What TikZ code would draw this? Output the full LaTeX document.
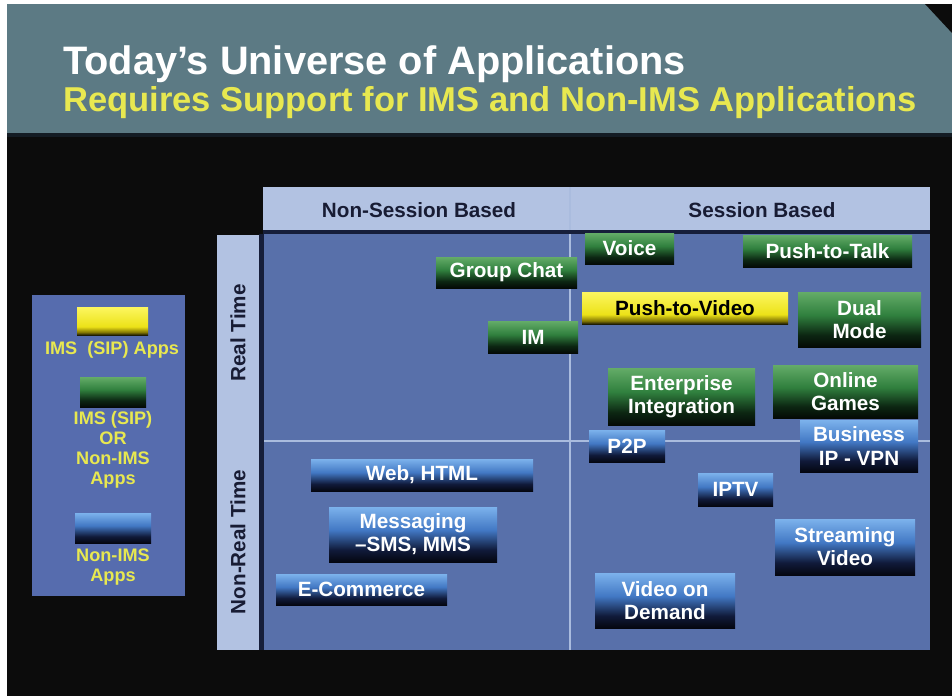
\documentclass[tikz,border=0pt]{standalone}
\usepackage{fontspec}
\setmainfont{Liberation Sans}
\definecolor{bgblack}{RGB}{12,12,12}
\definecolor{headband}{RGB}{92,122,132}
\definecolor{headshadow}{RGB}{20,28,36}
\definecolor{titleyellow}{RGB}{232,232,80}
\definecolor{lightcell}{RGB}{178,194,226}
\definecolor{maincell}{RGB}{88,112,170}
\definecolor{legendcell}{RGB}{86,108,174}
\definecolor{divline}{RGB}{170,188,222}
\definecolor{darkedge}{RGB}{22,30,58}
\definecolor{headtext}{RGB}{24,28,52}
\definecolor{g1}{RGB}{100,172,104}
\definecolor{g2}{RGB}{48,128,62}
\definecolor{g3}{RGB}{12,38,18}
\definecolor{gk}{RGB}{4,10,6}
\definecolor{b1}{RGB}{124,178,236}
\definecolor{b2}{RGB}{66,120,196}
\definecolor{b3}{RGB}{16,26,58}
\definecolor{bk}{RGB}{4,6,16}
\definecolor{y1}{RGB}{252,246,96}
\definecolor{y2}{RGB}{236,226,24}
\definecolor{y3}{RGB}{130,118,4}
\definecolor{yk}{RGB}{30,28,4}
\pgfdeclareverticalshading{greenbox}{100bp}{color(0bp)=(gk); color(25bp)=(gk); color(36bp)=(g3); color(54bp)=(g2); color(75bp)=(g1); color(100bp)=(g1)}
\pgfdeclareverticalshading{bluebox}{100bp}{color(0bp)=(bk); color(25bp)=(bk); color(36bp)=(b3); color(54bp)=(b2); color(75bp)=(b1); color(100bp)=(b1)}
\pgfdeclareverticalshading{yellowbox}{100bp}{color(0bp)=(yk); color(25bp)=(yk); color(30bp)=(y3); color(40bp)=(y2); color(75bp)=(y1); color(100bp)=(y1)}
\newcommand\appfont{\fontsize{15.5}{17.3}\selectfont\bfseries}
\newcommand\legfont{\fontsize{13.6}{15}\selectfont\bfseries}
\begin{document}
\begin{tikzpicture}[x=0.75pt,y=-0.75pt,
  sz/.style 2 args={minimum width=#1*0.75pt, minimum height=#2*0.75pt},
  app/.style={inner sep=0pt, outer sep=0pt, align=center, text=white, font=\appfont},
  gapp/.style={app, shading=greenbox},
  bapp/.style={app, shading=bluebox},
  yapp/.style={app, shading=yellowbox, text=black},
  hdr/.style={inner sep=0pt, text=headtext, font=\appfont},
  leg/.style={inner sep=0pt, align=center, text=titleyellow, font=\legfont}]
\useasboundingbox (0,0) rectangle (952,696);
% background
\fill[white] (0,0) rectangle (952,696);
\fill[bgblack] (7,4) rectangle (952,696);
\fill[headband] (7,4) rectangle (952,133);
\fill[headshadow] (7,133) rectangle (952,137);
\fill[bgblack] (925,4) -- (952,4) -- (952,33) -- cycle;
% titles
\node[anchor=base west, inner sep=0pt, text=white, font=\fontsize{29.8}{33}\selectfont\bfseries] (title) at (63,74) {Today’s Universe of Applications};
\node[anchor=base west, inner sep=0pt, text=titleyellow, font=\fontsize{25.9}{29}\selectfont\bfseries] (subtitle) at (63,111) {Requires Support for IMS and Non-IMS Applications};
% grid
\fill[lightcell] (263,187) rectangle (930,230);
\fill[darkedge] (263,230) rectangle (930,234);
\fill[lightcell] (217,235) rectangle (259,650);
\fill[maincell] (263,234) rectangle (930,650);
\fill[darkedge] (259,234) rectangle (264,650);
\draw[divline, line width=1.2pt] (570,187) -- (570,230);
\draw[divline, line width=1.2pt] (570,234) -- (570,650);
\draw[divline, line width=1.2pt] (264,441) -- (930,441);
\node[hdr] (nsb) at (419,210) {Non-Session Based};
\node[hdr] (sb) at (762,210) {Session Based};
\node[hdr, rotate=90] (rt) at (238,333) {Real Time};
\node[hdr, rotate=90] (nrt) at (238,542) {Non-Real Time};
% legend
\fill[legendcell] (32,295) rectangle (185,596);
\node[yapp, sz={71}{28}] (ly) at (112.5,321) {};
\node[leg] (lyt) at (112,350) {IMS\ \ (SIP) Apps};
\node[gapp, sz={66}{30}] (lg) at (113,392) {};
\node[leg] (lgt) at (113,450) {IMS (SIP)\\OR\\Non-IMS\\Apps};
\node[bapp, sz={76}{30}] (lb) at (113,528) {};
\node[leg] (lbt) at (113,567) {Non-IMS\\Apps};
% application boxes
\node[gapp, sz={141}{31}] (gchat) at (506.5,272.5) {Group Chat};
\node[gapp, sz={90}{32}] (im) at (533,337) {IM};
\node[gapp, sz={89}{31}] (voice) at (629.5,248.5) {Voice};
\node[gapp, sz={169}{32}] (ptt) at (827.5,251) {Push-to-Talk};
\node[yapp, sz={206}{32}] (ptv) at (685,308) {Push-to-Video};
\node[gapp, sz={123}{55}] (dual) at (859.5,319.5) {Dual\\Mode};
\node[gapp, sz={147}{57}] (ent) at (681.5,396.5) {Enterprise\\Integration};
\node[gapp, sz={145}{53}] (games) at (845.5,391.5) {Online\\Games};
\node[bapp, sz={76}{32}] (p2p) at (627,446) {P2P};
\node[bapp, sz={118}{52}] (vpn) at (859,446) {Business\\IP - VPN};
\node[bapp, sz={75}{33}] (iptv) at (735.5,489.5) {IPTV};
\node[bapp, sz={140}{56}] (stream) at (845,547) {Streaming\\Video};
\node[bapp, sz={140}{55}] (vod) at (665,600.5) {Video on\\Demand};
\node[bapp, sz={222}{32}] (web) at (422,475) {Web, HTML};
\node[bapp, sz={168}{55}] (msg) at (413,534.5) {Messaging\\–SMS, MMS};
\node[bapp, sz={171}{31}] (ecom) at (361.5,589.5) {E-Commerce};
\end{tikzpicture}
\end{document}
